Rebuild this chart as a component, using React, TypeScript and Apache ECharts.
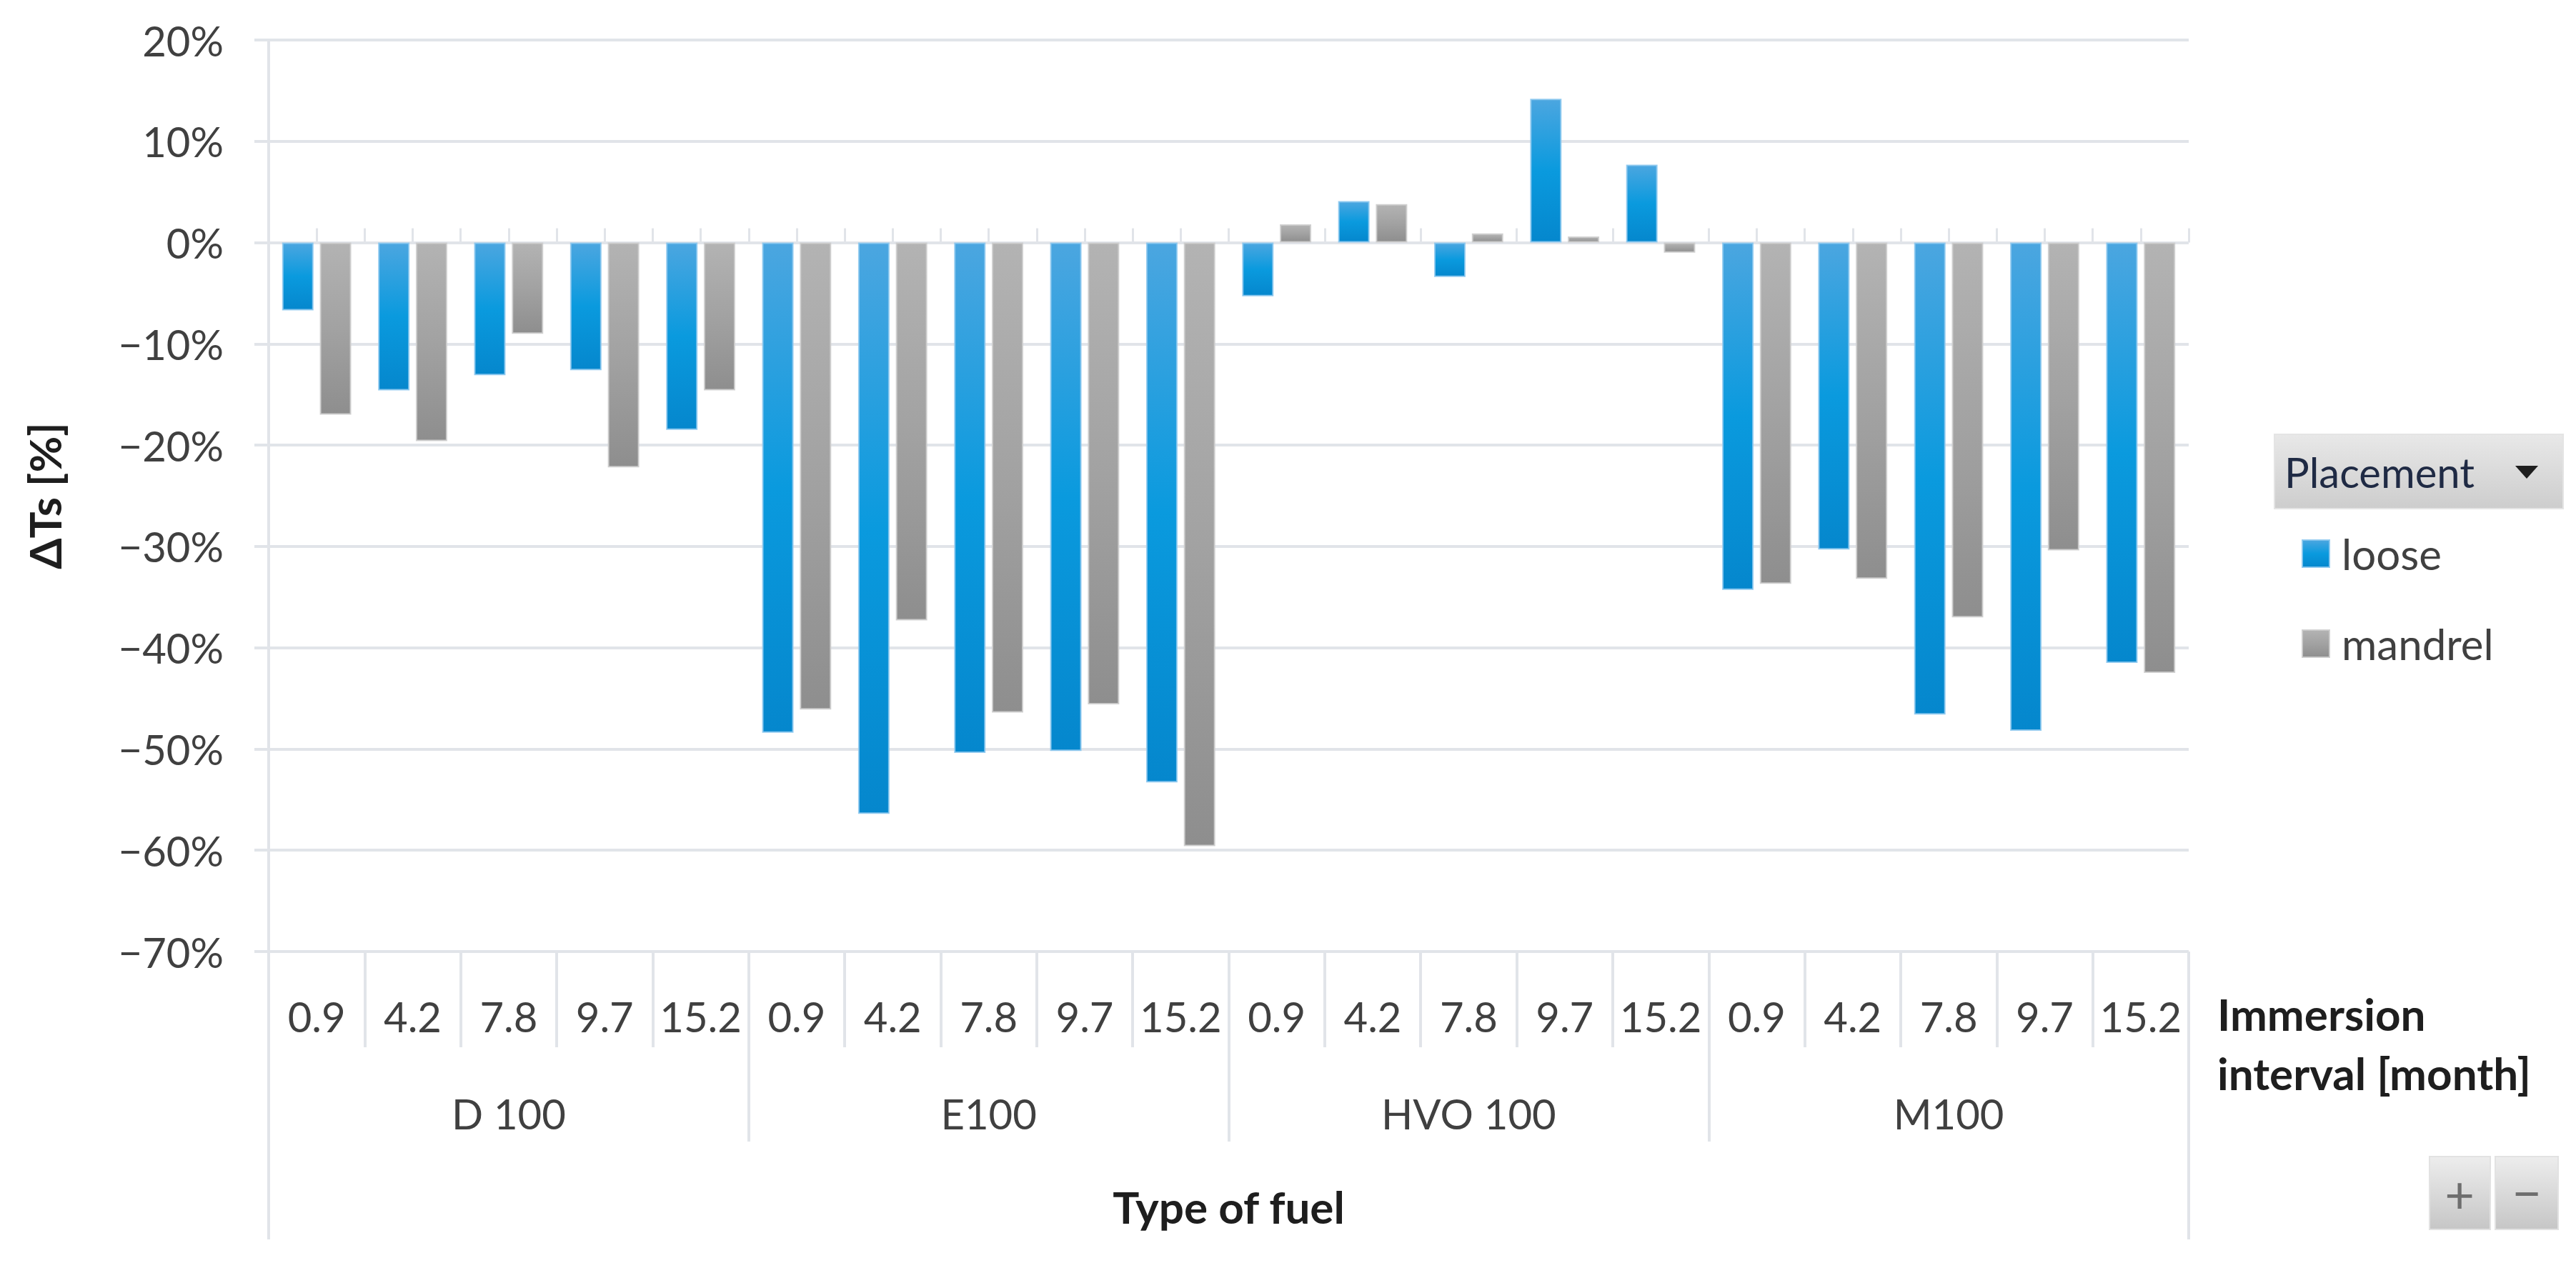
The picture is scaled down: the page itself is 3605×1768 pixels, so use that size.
import React, { useEffect, useRef } from "react";
import * as echarts from "echarts";

const intervals = ["0.9", "4.2", "7.8", "9.7", "15.2"];
const fuels = ["D 100", "E100", "HVO 100", "M100"];
const categories = fuels.flatMap(() => intervals);
const loose = [
  -6.7, -14.6, -13.1, -12.6, -18.5,
  -48.4, -56.4, -50.4, -50.2, -53.3,
  -5.3, 4.1, -3.4, 14.2, 7.7,
  -34.3, -30.3, -46.6, -48.2, -41.5,
];
const mandrel = [
  -17.0, -19.6, -9.0, -22.2, -14.6,
  -46.1, -37.3, -46.4, -45.6, -59.6,
  1.8, 3.8, 0.9, 0.6, -1.0,
  -33.7, -33.2, -37.0, -30.4, -42.5,
];
const seriesNames = ["loose", "mandrel"];
const yMin = -70;
const yMax = 20;
const yStep = 10;

const FONT = "Lato";
const GRID_COLOR = "#e1e4e9";
const LABEL_COLOR = "#404040";
const TITLE_COLOR = "#1e1e1e";

export default function App() {
  const ref = useRef<HTMLDivElement>(null);

  useEffect(() => {
    document.body.style.margin = "0";
    if (!ref.current) return;
    const chart = echarts.init(ref.current, undefined, { renderer: "svg" });

    const blue = new echarts.graphic.LinearGradient(0, 0, 0, 1, [
      { offset: 0, color: "#4ba6e0" },
      { offset: 0.5, color: "#0a9ade" },
      { offset: 1, color: "#0587cd" },
    ]);
    const grey = new echarts.graphic.LinearGradient(0, 0, 0, 1, [
      { offset: 0, color: "#b3b3b3" },
      { offset: 0.5, color: "#a2a2a2" },
      { offset: 1, color: "#8e8e8e" },
    ]);
    const headerFill = new echarts.graphic.LinearGradient(0, 0, 0, 1, [
      { offset: 0, color: "#e8e8e8" },
      { offset: 1, color: "#cdcdcd" },
    ]);
    const btnFill = new echarts.graphic.LinearGradient(0, 0, 0, 1, [
      { offset: 0, color: "#ededed" },
      { offset: 1, color: "#c6c6c6" },
    ]);

    const halfSlots = categories.flatMap((c) => [c, c]);
    const tickLine = { color: GRID_COLOR, width: 4 };
    const boldTitle = {
      fontFamily: FONT,
      fontWeight: "bold",
      fontSize: 62,
      color: TITLE_COLOR,
    };

    const option: any = {
      animation: false,
      backgroundColor: "#ffffff",
      grid: { left: 376, right: 542, top: 56, bottom: 436, containLabel: false },
      legend: {
        data: seriesNames,
        orient: "vertical",
        left: 3216,
        top: 740,
        icon: "rect",
        itemWidth: 38,
        itemHeight: 38,
        itemGap: 66,
        textStyle: {
          fontFamily: FONT,
          fontSize: 60,
          lineHeight: 60,
          color: LABEL_COLOR,
          padding: [0, 0, 0, 12],
        },
        selectedMode: false,
      },
      xAxis: [
        {
          type: "category",
          position: "bottom",
          data: categories,
          axisLine: { show: false, onZero: false },
          axisTick: { show: true, interval: 0, length: 134, lineStyle: tickLine },
          axisLabel: {
            interval: 0,
            margin: 90,
            verticalAlign: "middle",
            fontFamily: FONT,
            fontSize: 58,
            color: LABEL_COLOR,
          },
          splitLine: { show: false },
          name: "{s| }\n{t|Immersion}\n{t|interval [month]}",
          nameLocation: "end",
          nameGap: 40,
          nameTextStyle: {
            align: "left",
            verticalAlign: "top",
            rich: {
              s: { fontSize: 10, lineHeight: 45 },
              t: { ...boldTitle, lineHeight: 83 },
            },
          },
        },
        {
          type: "category",
          position: "bottom",
          data: fuels,
          axisLine: { show: false, onZero: false },
          axisTick: { show: true, interval: 0, length: 266, lineStyle: tickLine },
          axisLabel: {
            interval: 0,
            margin: 226,
            verticalAlign: "middle",
            fontFamily: FONT,
            fontSize: 58,
            color: LABEL_COLOR,
          },
          splitLine: { show: false },
        },
        {
          type: "category",
          position: "bottom",
          data: [""],
          axisLine: { show: false, onZero: false },
          axisTick: { show: true, length: 403, lineStyle: tickLine },
          axisLabel: { show: false },
          splitLine: { show: false },
          name: "Type of fuel",
          nameLocation: "middle",
          nameGap: 357,
          nameTextStyle: { ...boldTitle, verticalAlign: "middle" },
        },
        {
          type: "category",
          position: "bottom",
          data: halfSlots,
          axisLine: { show: false, onZero: true, onZeroAxisIndex: 0 },
          axisTick: {
            show: true,
            inside: true,
            length: 20,
            lineStyle: { color: GRID_COLOR, width: 3 },
            interval: (i: number) => !(i % 2 === 1 && i >= 21 && i <= 29),
          },
          axisLabel: { show: false },
          splitLine: { show: false },
        },
      ],
      yAxis: {
        type: "value",
        min: yMin,
        max: yMax,
        interval: yStep,
        axisLine: { show: true, lineStyle: tickLine },
        axisTick: { show: true, length: 20, lineStyle: tickLine },
        splitLine: { show: true, lineStyle: tickLine },
        axisLabel: {
          margin: 63,
          fontFamily: FONT,
          fontSize: 58,
          color: LABEL_COLOR,
          formatter: (v: number) => (v < 0 ? "\u2212" : "") + Math.abs(Math.round(v)) + "%",
        },
        name: "\u0394Ts [%]",
        nameLocation: "middle",
        nameGap: 314,
        nameRotate: 90,
        nameTextStyle: { ...boldTitle, verticalAlign: "middle" },
      },
      series: [
        {
          type: "bar",
          name: seriesNames[0],
          data: loose,
          xAxisIndex: 0,
          yAxisIndex: 0,
          barGap: "20%",
          barCategoryGap: "28%",
          itemStyle: { color: blue, borderColor: "rgba(140,200,238,0.9)", borderWidth: 2 },
        },
        {
          type: "bar",
          name: seriesNames[1],
          data: mandrel,
          xAxisIndex: 0,
          yAxisIndex: 0,
          barGap: "20%",
          barCategoryGap: "28%",
          itemStyle: { color: grey, borderColor: "rgba(205,205,205,0.9)", borderWidth: 2 },
        },
      ],
      graphic: [
        {
          type: "group",
          children: [
            {
              type: "rect",
              shape: { x: 3183, y: 608, width: 404, height: 104 },
              style: { fill: headerFill, stroke: "#e4e4e4", lineWidth: 2 },
            },
            {
              type: "text",
              x: 3197,
              y: 660,
              style: {
                text: "Placement",
                fontFamily: FONT,
                fontSize: 58,
                fill: "#1f2a44",
                verticalAlign: "middle",
                align: "left",
              },
            },
            {
              type: "polygon",
              shape: { points: [[3520, 652], [3552, 652], [3536, 670]] },
              style: { fill: "#1e1e1e" },
            },
          ],
        },
        {
          type: "group",
          children: [
            {
              type: "rect",
              shape: { x: 3400, y: 1619, width: 85, height: 102 },
              style: { fill: btnFill, stroke: "#e2e2e2", lineWidth: 2 },
            },
            {
              type: "rect",
              shape: { x: 3492, y: 1619, width: 88, height: 102 },
              style: { fill: btnFill, stroke: "#e2e2e2", lineWidth: 2 },
            },
            {
              type: "text",
              x: 3442,
              y: 1670,
              style: {
                text: "+",
                fontFamily: FONT,
                fontSize: 72,
                fill: "#6e6e6e",
                align: "center",
                verticalAlign: "middle",
              },
            },
            {
              type: "text",
              x: 3536,
              y: 1668,
              style: {
                text: "\u2212",
                fontFamily: FONT,
                fontSize: 72,
                fill: "#6e6e6e",
                align: "center",
                verticalAlign: "middle",
              },
            },
          ],
        },
      ],
    };

    chart.setOption(option);
    return () => {
      chart.dispose();
    };
  }, []);

  return <div ref={ref} style={{ width: "3605px", height: "1768px" }} />;
}
